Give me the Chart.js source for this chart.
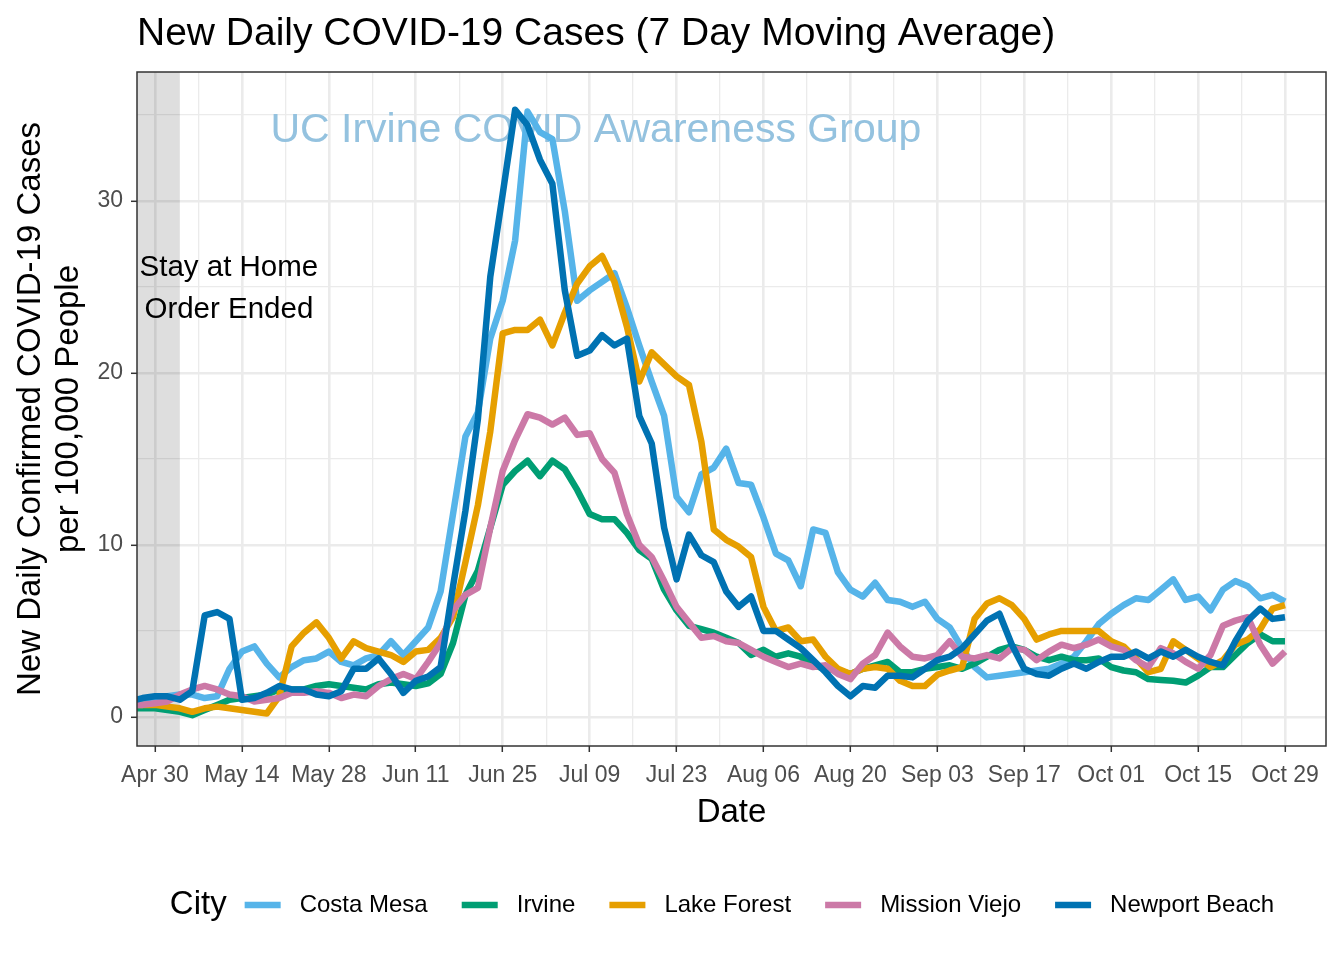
<!DOCTYPE html>
<html lang="en">
<head>
  <meta charset="UTF-8" />
  <title>New Daily COVID-19 Cases</title>
  <script src="https://cdn.jsdelivr.net/npm/chart.js"></script>
  <style>
    html, body { margin: 0; padding: 0; background: #fff; }
    canvas { display: block; }
  </style>
</head>
<body>
  <canvas id="chart" width="1344" height="960"></canvas>

  <script>
    // x = days since Apr 30 (2020); values read every second day
    const days = [-3, ...Array.from({ length: 93 }, (_, i) => -2 + 2 * i)];

    const cities = ['Costa Mesa', 'Irvine', 'Lake Forest', 'Mission Viejo', 'Newport Beach'];
    const colors = ['#56B4E9', '#009E73', '#E69F00', '#CC79A7', '#0072B2'];

    const costaMesa = [0.9, 0.9, 1.0, 1.2, 1.3, 1.3, 1.1, 1.2, 2.8, 3.8, 4.1, 3.1, 2.3, 2.9, 3.3, 3.4, 3.8, 3.2, 3.0, 3.4,
      3.6, 4.4, 3.6, 4.4, 5.2, 7.3, 11.8, 16.3, 17.7, 22.0, 24.2, 27.7, 35.2, 34.0, 33.6, 29.4, 24.2, 24.8, 25.3, 25.8,
      23.8, 21.6, 19.5, 17.5, 12.8, 11.9, 14.1, 14.5, 15.6, 13.6, 13.5, 11.6, 9.5, 9.1, 7.6, 10.9, 10.7, 8.4, 7.4, 7.0,
      7.8, 6.8, 6.7, 6.4, 6.7, 5.7, 5.2, 4.0, 2.9, 2.3, 2.4, 2.5, 2.6, 2.7, 2.8, 3.1, 3.5, 4.4, 5.4, 6.0,
      6.5, 6.9, 6.8, 7.4, 8.0, 6.8, 7.0, 6.2, 7.4, 7.9, 7.6, 6.9, 7.1, 6.7];
    const irvine = [0.5, 0.5, 0.5, 0.4, 0.3, 0.1, 0.4, 0.7, 1.0, 1.1, 1.2, 1.3, 1.6, 1.6, 1.6, 1.8, 1.9, 1.8, 1.7, 1.6,
      1.9, 2.0, 1.9, 1.8, 1.95, 2.5, 4.3, 7.1, 8.5, 11.0, 13.5, 14.3, 14.9, 14.0, 14.9, 14.4, 13.2, 11.8, 11.5, 11.5,
      10.7, 9.7, 9.2, 7.4, 6.2, 5.3, 5.1, 4.9, 4.6, 4.3, 3.6, 3.9, 3.5, 3.7, 3.5, 3.0, 2.8, 2.7, 2.5, 2.8,
      3.0, 3.2, 2.6, 2.6, 2.8, 2.9, 3.0, 2.8, 3.1, 3.5, 3.9, 4.1, 3.9, 3.5, 3.3, 3.5, 3.3, 3.3, 3.4, 2.9,
      2.7, 2.6, 2.2, 2.15, 2.1, 2.0, 2.4, 2.9, 2.9, 3.6, 4.3, 4.8, 4.4, 4.4];
    const lakeForest = [0.7, 0.7, 0.7, 0.6, 0.5, 0.3, 0.5, 0.6, 0.5, 0.4, 0.3, 0.2, 1.2, 4.1, 4.9, 5.5, 4.6, 3.4, 4.4, 4.0,
      3.8, 3.6, 3.2, 3.8, 3.9, 4.6, 5.8, 9.0, 12.3, 16.6, 22.3, 22.5, 22.5, 23.1, 21.6, 23.5, 25.2, 26.2, 26.8, 25.3,
      22.7, 19.5, 21.2, 20.5, 19.8, 19.3, 16.0, 10.9, 10.3, 9.9, 9.3, 6.4, 5.0, 5.2, 4.4, 4.5, 3.5, 2.8, 2.5, 2.8,
      2.9, 2.8, 2.1, 1.8, 1.8, 2.45, 2.7, 2.9, 5.7, 6.6, 6.9, 6.5, 5.7, 4.5, 4.8, 5.0, 5.0, 5.0, 5.0, 4.4,
      4.1, 3.4, 2.6, 2.8, 4.4, 3.9, 3.4, 2.9, 3.3, 4.2, 4.5, 5.1, 6.3, 6.5];
    const missionViejo = [0.7, 0.7, 0.8, 0.9, 1.3, 1.6, 1.8, 1.6, 1.3, 1.2, 0.9, 1.0, 1.1, 1.4, 1.4, 1.5, 1.4, 1.1, 1.3, 1.2,
      1.8, 2.2, 2.5, 2.2, 3.2, 4.3, 6.2, 7.1, 7.5, 11.0, 14.3, 16.1, 17.6, 17.4, 17.0, 17.4, 16.4, 16.5, 15.0, 14.2,
      11.8, 10.0, 9.3, 7.9, 6.4, 5.5, 4.6, 4.7, 4.4, 4.3, 3.9, 3.5, 3.2, 2.9, 3.1, 2.9, 3.0, 2.5, 2.2, 3.1,
      3.6, 4.9, 4.1, 3.5, 3.4, 3.6, 4.4, 3.5, 3.4, 3.6, 3.4, 4.0, 3.9, 3.3, 3.8, 4.2, 4.0, 4.2, 4.5, 4.1,
      3.9, 3.3, 2.9, 4.0, 3.7, 3.2, 2.8, 3.6, 5.3, 5.6, 5.8, 4.2, 3.1, 3.8];
    const newportBeach = [1.0, 1.1, 1.2, 1.2, 1.0, 1.5, 5.9, 6.1, 5.7, 1.0, 1.1, 1.4, 1.8, 1.6, 1.6, 1.3, 1.2, 1.5, 2.8, 2.8,
      3.4, 2.5, 1.4, 2.1, 2.35, 2.9, 7.6, 12.0, 17.3, 25.6, 30.4, 35.3, 34.4, 32.4, 31.0, 24.8, 21.0, 21.3, 22.2, 21.6,
      22.0, 17.5, 15.9, 11.0, 8.0, 10.6, 9.4, 9.0, 7.3, 6.4, 7.0, 5.0, 5.0, 4.5, 4.0, 3.3, 2.6, 1.8, 1.2, 1.8,
      1.7, 2.4, 2.4, 2.3, 2.8, 3.3, 3.5, 4.0, 4.8, 5.6, 6.0, 4.2, 2.8, 2.5, 2.4, 2.8, 3.1, 2.8, 3.2, 3.5,
      3.5, 3.8, 3.4, 3.8, 3.5, 3.9, 3.5, 3.2, 3.0, 4.4, 5.6, 6.3, 5.7, 5.8];
    const series = [costaMesa, irvine, lakeForest, missionViejo, newportBeach];

    const tickDays = [0, 14, 28, 42, 56, 70, 84, 98, 112, 126, 140, 154, 168, 182];
    const tickLabels = ['Apr 30', 'May 14', 'May 28', 'Jun 11', 'Jun 25', 'Jul 09', 'Jul 23',
      'Aug 06', 'Aug 20', 'Sep 03', 'Sep 17', 'Oct 01', 'Oct 15', 'Oct 29'];
    const yTicks = [0, 10, 20, 30];
    const yMinor = [5, 15, 25, 35];

    const stayHomeEnd = 4;          // May 04
    const FONT = "'Liberation Sans', Arial, Helvetica, sans-serif";
    const LINE_W = 6.5;

    const xMinor = tickDays.slice(1).map((d, i) => (d + tickDays[i]) / 2);

    function makeTicks(major, minor) {
      return [...major, ...minor].sort((a, b) => a - b).map(v => ({ value: v, isMajor: major.includes(v) }));
    }

    const decor = {
      id: 'decor',
      beforeDatasetsDraw(chart) {
        const { ctx, chartArea: a, scales: { x, y } } = chart;
        ctx.save();
        ctx.fillStyle = 'rgba(0,0,0,0.13)';
        ctx.fillRect(a.left, a.top, x.getPixelForValue(stayHomeEnd) - a.left, a.bottom - a.top);

        ctx.fillStyle = '#94C2DF';
        ctx.font = '41px ' + FONT;
        ctx.textAlign = 'center';
        ctx.textBaseline = 'middle';
        ctx.fillText('UC Irvine COVID Awareness Group', x.getPixelForValue(71), y.getPixelForValue(34.1));

        ctx.fillStyle = '#000';
        ctx.font = '29.5px ' + FONT;
        ctx.fillText('Stay at Home', x.getPixelForValue(11.9), y.getPixelForValue(26.1));
        ctx.fillText('Order Ended', x.getPixelForValue(11.9), y.getPixelForValue(23.65));
        ctx.restore();
      },
      afterDatasetsDraw(chart) {
        const { ctx, chartArea: a } = chart;
        ctx.save();
        ctx.strokeStyle = '#333333';
        ctx.lineWidth = 1.5;
        ctx.strokeRect(a.left, a.top, a.right - a.left, a.bottom - a.top);
        ctx.restore();
      },
      afterDraw(chart) {
        const { ctx, chartArea: a } = chart;
        ctx.save();
        ctx.fillStyle = '#000';

        // title
        ctx.font = '39px ' + FONT;
        ctx.textAlign = 'left';
        ctx.textBaseline = 'alphabetic';
        ctx.fillText('New Daily COVID-19 Cases (7 Day Moving Average)', a.left, 45);

        // axis titles
        ctx.font = '33px ' + FONT;
        ctx.textAlign = 'center';
        ctx.fillText('Date', (a.left + a.right) / 2, 822);
        ctx.save();
        ctx.translate(0, (a.top + a.bottom) / 2);
        ctx.rotate(-Math.PI / 2);
        ctx.textBaseline = 'middle';
        ctx.fillText('New Daily Confirmed COVID-19 Cases', 0, 31);
        ctx.fillText('per 100,000 People', 0, 69);
        ctx.restore();

        // legend
        const ds = chart.data.datasets;
        const keyW = 40, keyGap = 17, itemGap = 32, titleGap = 16;
        ctx.font = '33px ' + FONT;
        const titleW = ctx.measureText('City').width;
        ctx.font = '24px ' + FONT;
        const widths = ds.map(d => ctx.measureText(d.label).width);
        const total = titleW + titleGap + widths.reduce((s, w) => s + keyW + keyGap + w, 0) + itemGap * (ds.length - 1);
        let lx = 722 - total / 2;
        const ly = 905;
        ctx.textAlign = 'left';
        ctx.textBaseline = 'middle';
        ctx.font = '33px ' + FONT;
        ctx.fillText('City', lx, ly);
        lx += titleW + titleGap;
        ctx.font = '24px ' + FONT;
        ds.forEach((d, i) => {
          ctx.strokeStyle = d.borderColor;
          ctx.lineWidth = LINE_W;
          ctx.beginPath();
          ctx.moveTo(lx + 2, ly);
          ctx.lineTo(lx + keyW - 2, ly);
          ctx.stroke();
          lx += keyW + keyGap;
          ctx.fillStyle = '#000';
          ctx.fillText(d.label, lx, ly);
          lx += widths[i] + itemGap;
        });
        ctx.restore();
      }
    };

    Chart.defaults.font.family = FONT;

    new Chart(document.getElementById('chart'), {
      type: 'line',
      data: {
        datasets: cities.map((name, i) => ({
          label: name,
          data: days.map((d, j) => ({ x: d, y: series[i][j] })),
          borderColor: colors[i],
          backgroundColor: colors[i],
          borderWidth: LINE_W,
          pointRadius: 0,
          tension: 0,
          fill: false,
          borderJoinStyle: 'round',
          order: cities.length - i
        }))
      },
      options: {
        responsive: false,
        animation: false,
        layout: { padding: { top: 72, right: 18, bottom: 0, left: 0 } },
        plugins: { legend: { display: false }, title: { display: false }, tooltip: { enabled: false } },
        scales: {
          x: {
            type: 'linear',
            min: -2.9,
            max: 188.6,
            afterBuildTicks: s => { s.ticks = makeTicks(tickDays, xMinor); },
            afterFit: s => { s.height = 214; },
            ticks: {
              autoSkip: false, maxRotation: 0, minRotation: 0, padding: 10,
              color: '#4D4D4D', font: { size: 23 },
              callback: v => { const i = tickDays.indexOf(v); return i < 0 ? '' : tickLabels[i]; }
            },
            grid: {
              color: '#EBEBEB',
              lineWidth: c => (c.tick && c.tick.isMajor ? 2.6 : 1.3),
              tickColor: c => (c.tick && c.tick.isMajor ? '#333333' : 'rgba(0,0,0,0)'),
              tickLength: 6, tickWidth: 1.5
            },
            border: { display: false }
          },
          y: {
            type: 'linear',
            min: -1.69,
            max: 37.5,
            afterBuildTicks: s => { s.ticks = makeTicks(yTicks, yMinor); },
            afterFit: s => { s.width = 137; },
            ticks: {
              padding: 8, color: '#4D4D4D', font: { size: 23 },
              callback: v => (yTicks.includes(v) ? String(v) : '')
            },
            grid: {
              color: '#EBEBEB',
              lineWidth: c => (c.tick && c.tick.isMajor ? 2.6 : 1.3),
              tickColor: c => (c.tick && c.tick.isMajor ? '#333333' : 'rgba(0,0,0,0)'),
              tickLength: 6, tickWidth: 1.5
            },
            border: { display: false }
          }
        }
      },
      plugins: [decor]
    });
  </script>
</body>
</html>
